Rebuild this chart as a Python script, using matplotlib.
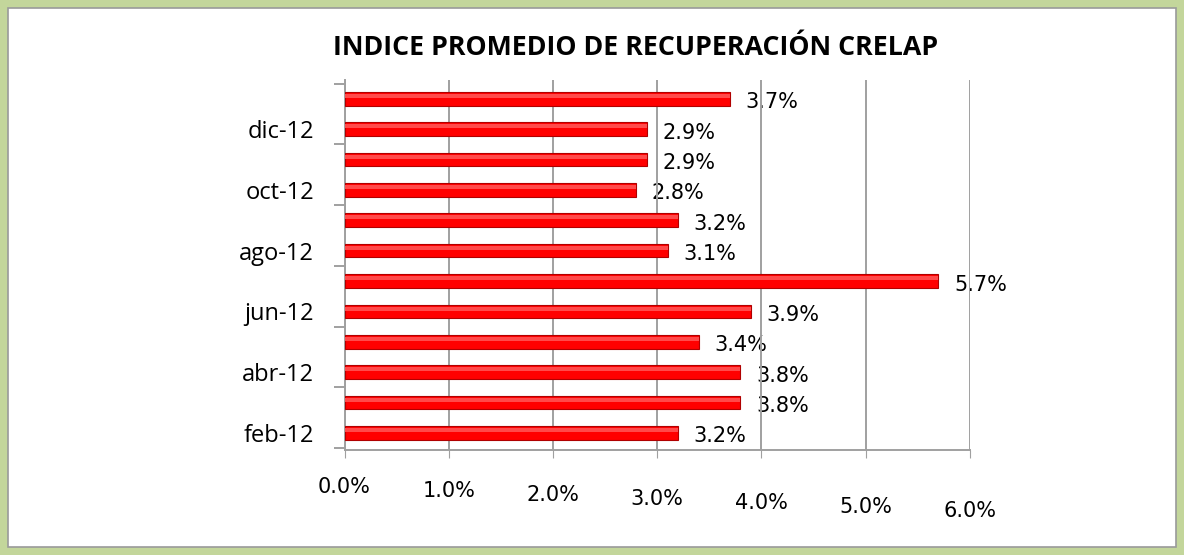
import matplotlib.pyplot as plt
import matplotlib.transforms as mtransforms
from matplotlib.patches import Rectangle
from matplotlib.ticker import FuncFormatter

months = ["feb-12", "mar-12", "abr-12", "may-12", "jun-12", "jul-12",
          "ago-12", "sep-12", "oct-12", "nov-12", "dic-12", "ene-13"]
values = [3.2, 3.8, 3.8, 3.4, 3.9, 5.7, 3.1, 3.2, 2.8, 2.9, 2.9, 3.7]
x_ticks = [0, 1, 2, 3, 4, 5, 6]

plt.rcParams["font.family"] = "DejaVu Sans"

fig = plt.figure(figsize=(11.84, 5.55), dpi=100)
fig.patch.set_facecolor("#c3d69b")

# white panel with thin grey border inside the green frame
fig.patches.append(Rectangle((8 / 1184, 8 / 555), 1168 / 1184, 539 / 555,
                             transform=fig.transFigure, facecolor="white",
                             edgecolor="#9a9a9a", linewidth=1.2, zorder=-10))

ax = fig.add_axes([0.291, 0.19, 0.528, 0.665])
ax.set_facecolor("none")

pos = list(range(len(months)))
ax.barh(pos, values, height=0.45, color="#ff0000", edgecolor="#b00000",
        linewidth=0.8, zorder=3)
# light highlight along top of each bar to hint at the cylinder look
ax.barh([p + 0.09 for p in pos], values, height=0.13, color="#ff4a4a",
        linewidth=0, zorder=4)

for p, v in zip(pos, values):
    ax.text(v + 0.15, p - 0.12, f"{v:.1f}%", ha="left", va="center",
            fontsize=15, color="black", zorder=1)

ax.set_xlim(0, 6)
ax.set_ylim(-0.55, 11.6)
ax.set_xticks(x_ticks)
ax.xaxis.set_major_formatter(FuncFormatter(lambda v, _: f"{v:.1f}%"))
ax.set_yticks(pos[::2])
ax.set_yticklabels(months[::2], family="Open Sans")
ax.set_yticks([p - 0.5 for p in pos[::2]] + [11.5], minor=True)

ax.grid(axis="x", color="#a0a0a0", linewidth=1.4, zorder=2)
ax.set_axisbelow(False)
for s in ["top", "right"]:
    ax.spines[s].set_visible(False)
for s in ["left", "bottom"]:
    ax.spines[s].set_color("#a0a0a0")
    ax.spines[s].set_linewidth(1.4)

ax.tick_params(axis="x", colors="#a0a0a0", labelcolor="black", length=6,
               pad=14, labelsize=15)
ax.tick_params(axis="y", which="major", length=0, pad=22, labelsize=17,
               labelcolor="black")
ax.tick_params(axis="y", which="minor", colors="#a0a0a0", length=8, width=1.4)

# the floor of the original 3D chart tilts, so labels drift down to the right
for i, t in enumerate(ax.get_xticklabels()):
    drop = mtransforms.ScaledTranslation(0, -4 * i / 100, fig.dpi_scale_trans)
    t.set_transform(t.get_transform() + drop)

fig.text(0.537, 0.913, "INDICE PROMEDIO DE RECUPERACIÓN CRELAP", ha="center",
         va="center", fontsize=19.3, fontweight="bold", family="Open Sans")

fig.savefig("out.png", dpi=100, facecolor=fig.get_facecolor())
